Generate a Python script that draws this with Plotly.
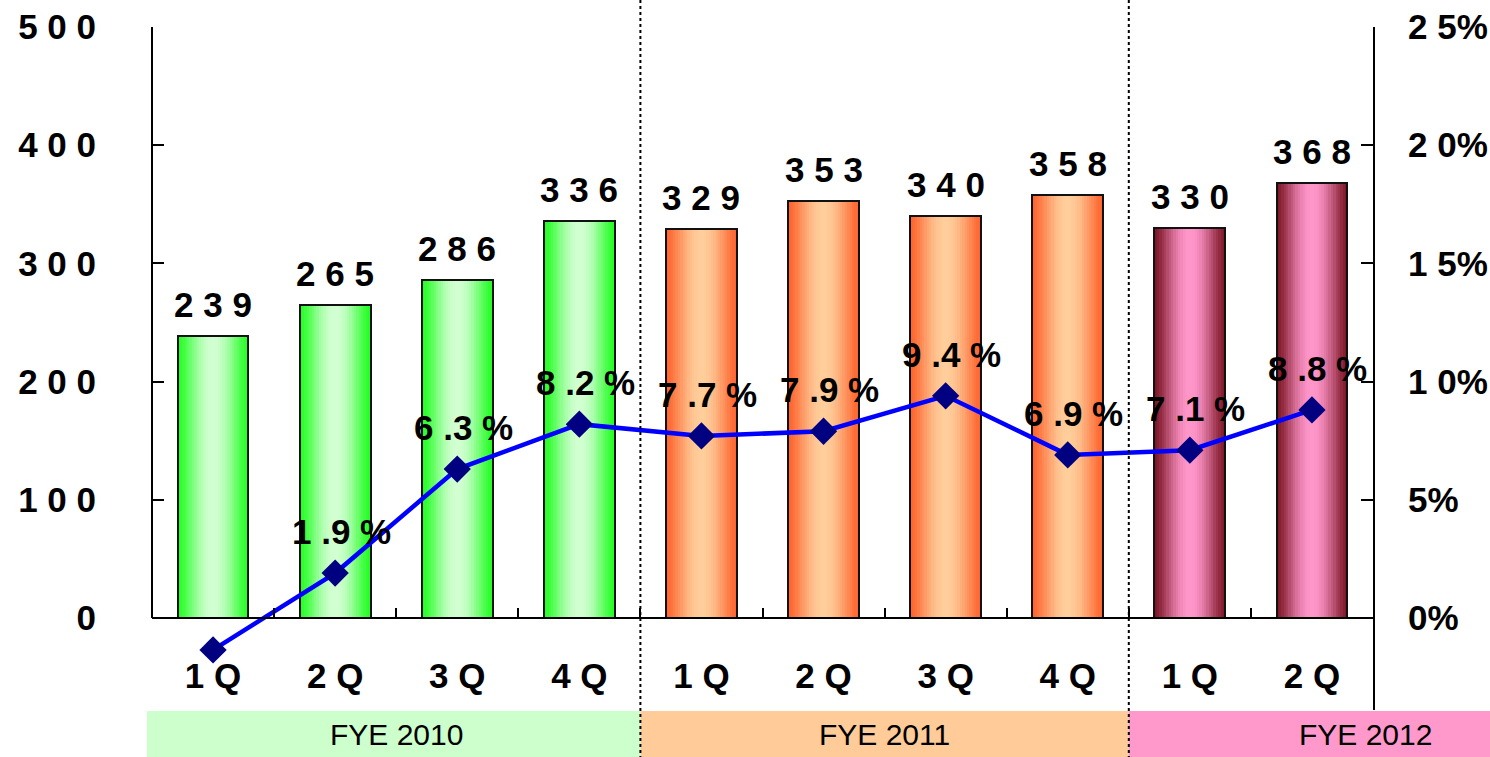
import math
import plotly.graph_objects as go

# ---------------- data ----------------
quarters = ["1Q", "2Q", "3Q", "4Q", "1Q", "2Q", "3Q", "4Q", "1Q", "2Q"]
fiscal_years = ["FYE 2010", "FYE 2011", "FYE 2012"]
year_of_bar = [0, 0, 0, 0, 1, 1, 1, 1, 2, 2]
sales = [239, 265, 286, 336, 329, 353, 340, 358, 330, 368]
margin_pct = [-1.35, 1.9, 6.3, 8.2, 7.7, 7.9, 9.4, 6.9, 7.1, 8.8]
margin_labels = ["", "1.9%", "6.3%", "8.2%", "7.7%", "7.9%", "9.4%", "6.9%", "7.1%", "8.8%"]
left_ticks = [0, 100, 200, 300, 400, 500]
right_ticks = [0, 5, 10, 15, 20, 25]
right_tick_labels = ["0%", "5%", "10%", "15%", "20%", "25%"]

# ---------------- styles ----------------
edge_colors = [(34, 255, 34), (255, 100, 45), (125, 22, 38)]
center_colors = [(210, 255, 210), (255, 206, 155), (255, 150, 202)]
band_colors = ["#CCFFCC", "#FFCC99", "#FF99CC"]
FONT = "Liberation Sans"
BOLD = dict(family=FONT, size=35, color="black", weight="bold")


def spaced(s):
    return " ".join(s).replace(". ", ".")


def spaced_tick(s):
    return " ".join(s).replace(" %", "%")


def mix(a, b, f):
    return "rgb(%d,%d,%d)" % tuple(round(a[i] + (b[i] - a[i]) * f) for i in range(3))


x = list(range(len(sales)))
n_cat = len(x)
bar_w = 0.58

fig = go.Figure()

# gradient bars made of thin vertical stripes
N = 30
for k in range(N):
    t = (k + 0.5) / N
    f = math.sin(math.pi * t) ** 1.4
    cols = [mix(edge_colors[g], center_colors[g], f) for g in year_of_bar]
    sw = bar_w / N * (1.5 if k < N - 1 else 1.0)
    fig.add_trace(go.Bar(
        x=x, y=sales, width=sw, offset=-bar_w / 2 + k * bar_w / N,
        marker=dict(color=cols, line=dict(width=0)),
        hoverinfo="skip", showlegend=False,
    ))

# outline
fig.add_trace(go.Bar(
    x=x, y=sales, width=bar_w,
    marker=dict(color="rgba(0,0,0,0)", line=dict(color="#111111", width=2)),
    showlegend=False, name="Sales",
))

# margin line
fig.add_trace(go.Scatter(
    x=x, y=margin_pct, yaxis="y2", mode="lines+markers",
    line=dict(color="#0000FF", width=4.5),
    marker=dict(symbol="diamond", size=21, color="#000080"),
    cliponaxis=False, showlegend=False, name="Margin",
))

# axis geometry
plot_top, plot_bottom, zero_px = 27, 710, 618
zero_frac = (plot_bottom - zero_px) / (plot_bottom - plot_top)
lmax, rmax = max(left_ticks), max(right_ticks)
lmin = -lmax * zero_frac / (1 - zero_frac)
rmin = -rmax * zero_frac / (1 - zero_frac)

shapes = []
shapes.append(dict(type="line", xref="paper", yref="y", x0=0, x1=0, y0=0, y1=lmax,
                   line=dict(color="black", width=2)))

bounds = [0, 4, 8, 10]
band_left_px = -5 / 1221
for i in range(3):
    x0 = bounds[i] / n_cat if i > 0 else band_left_px
    x1 = bounds[i + 1] / n_cat if i < 2 else 1.2
    shapes.append(dict(type="rect", xref="paper", yref="paper", x0=x0, x1=x1,
                       y0=-1 / 683, y1=-47 / 683, fillcolor=band_colors[i],
                       line=dict(width=0), layer="below"))
for b in bounds[1:3]:
    shapes.append(dict(type="line", xref="paper", yref="paper", x0=b / n_cat, x1=b / n_cat,
                       y0=1 + 27 / 683, y1=-47 / 683,
                       line=dict(color="black", width=2, dash="dot")))

annotations = []
label_x = [(bounds[0] + bounds[1]) / 2 / n_cat, (bounds[1] + bounds[2]) / 2 / n_cat, (1365 - 152) / 1221]
for i, name in enumerate(fiscal_years):
    annotations.append(dict(text=name, xref="paper", yref="paper", x=label_x[i], y=-24 / 683,
                            xanchor="center", yanchor="middle", showarrow=False,
                            font=dict(family=FONT, size=30, color="black")))

# value labels above bars
for xi, v in zip(x, sales):
    annotations.append(dict(text=spaced(str(v)), x=xi, y=v, xref="x", yref="y",
                            xanchor="center", yanchor="bottom", yshift=10,
                            showarrow=False, font=BOLD))
# margin labels above markers
for xi, v, s in zip(x, margin_pct, margin_labels):
    if not s:
        continue
    annotations.append(dict(text=spaced(s), x=xi, y=v, xref="x", yref="y2",
                            xanchor="center", yanchor="bottom", yshift=20, xshift=6,
                            showarrow=False, font=BOLD))

fig.update_layout(
    width=1490, height=757,
    margin=dict(l=152, r=117, t=27, b=47, autoexpand=False),
    paper_bgcolor="white", plot_bgcolor="white",
    barmode="overlay", bargap=0,
    showlegend=False,
    shapes=shapes, annotations=annotations,
    xaxis=dict(
        range=[-0.5, n_cat - 0.5], tickmode="array", tickvals=x,
        ticktext=[spaced(q) for q in quarters], tickfont=BOLD,
        anchor="free", position=zero_frac, automargin=False,
        showline=True, linecolor="black", linewidth=2,
        ticks="", showgrid=False, zeroline=False, ticklabelstandoff=27,
        minor=dict(tickmode="array", tickvals=[i + 0.5 for i in range(n_cat - 1)],
                   ticks="inside", ticklen=9, tickwidth=2, tickcolor="black", showgrid=False),
    ),
    yaxis=dict(
        range=[lmin, lmax], tickmode="array", tickvals=left_ticks,
        ticktext=[spaced(str(v)) for v in left_ticks], tickfont=BOLD, automargin=False,
        ticks="inside", ticklen=12, tickwidth=2, tickcolor="black",
        showline=False, showgrid=False, zeroline=False, ticklabelstandoff=55,
    ),
    yaxis2=dict(
        range=[rmin, rmax], overlaying="y", side="right", tickmode="array", automargin=False,
        tickvals=right_ticks, ticktext=[spaced_tick(s) for s in right_tick_labels], tickfont=BOLD,
        ticks="inside", ticklen=12, tickwidth=2, tickcolor="black",
        showline=True, linecolor="black", linewidth=2,
        showgrid=False, zeroline=False, ticklabelstandoff=26,
    ),
)

fig.write_html("out.html")
